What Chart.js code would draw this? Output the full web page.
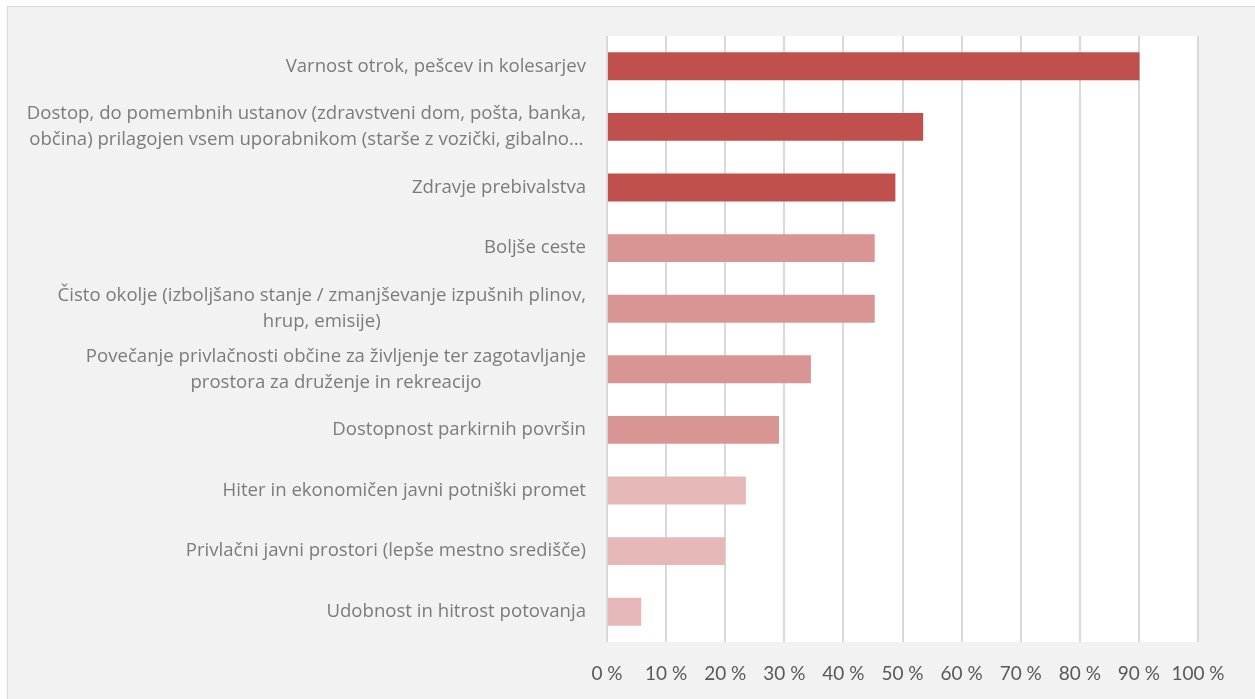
<!DOCTYPE html>
<html>
<head>
<meta charset="utf-8">
<script src="https://cdn.jsdelivr.net/npm/chart.js@4"></script>
<style>
    html, body { margin: 0; padding: 0; background: #ffffff; overflow: hidden; }
    #wrap { position: absolute; left: 0; top: 0; width: 1255px; height: 699px; }
</style>
</head>
<body>
<div id="wrap"><canvas id="chart" width="1255" height="699"></canvas></div>
<script>
const categories = [
    ["Varnost otrok, pešcev in kolesarjev"],
    ["Dostop, do pomembnih ustanov (zdravstveni dom, pošta, banka,", "občina) prilagojen vsem uporabnikom (starše z vozički, gibalno…"],
    ["Zdravje prebivalstva"],
    ["Boljše ceste"],
    ["Čisto okolje (izboljšano stanje / zmanjševanje izpušnih plinov,", "hrup, emisije)"],
    ["Povečanje privlačnosti občine za življenje ter zagotavljanje", "prostora za druženje in rekreacijo"],
    ["Dostopnost parkirnih površin"],
    ["Hiter in ekonomičen javni potniški promet"],
    ["Privlačni javni prostori (lepše mestno središče)"],
    ["Udobnost in hitrost potovanja"],
]
const shares = [90.1, 53.5, 48.8, 45.3, 45.3, 34.5, 29.1, 23.5, 20.0, 5.8]
const tiers = [0, 0, 0, 1, 1, 1, 1, 2, 2, 2]
const tierColors = ["#c0504d", "#d99594", "#e6b8b7"]
const xTicks = [0, 10, 20, 30, 40, 50, 60, 70, 80, 90, 100]

const labelFont = "18.6px 'Open Sans', Lato, sans-serif"
const labelLineHeight = 26

// gray panel behind everything
const panel = {
    id: "panel",
    beforeDraw(chart) {
        const ctx = chart.ctx
        ctx.save()
        ctx.fillStyle = "#f2f2f2"
        ctx.fillRect(7, 6, chart.width, chart.height)
        ctx.strokeStyle = "#d9d9d9"
        ctx.lineWidth = 1
        ctx.strokeRect(7.5, 6.5, chart.width, chart.height)
        ctx.fillStyle = "#ffffff"
        const a = chart.chartArea
        ctx.fillRect(a.left, a.top, a.right - a.left, a.bottom - a.top)
        ctx.restore()
    }
}

// category labels: block right-aligned, lines centred inside the block
const categoryLabels = {
    id: "categoryLabels",
    afterDraw(chart) {
        const ctx = chart.ctx
        const yScale = chart.scales.y
        const right = chart.chartArea.left - 21
        ctx.save()
        ctx.font = labelFont
        ctx.fillStyle = "#7b7b7b"
        ctx.textAlign = "center"
        ctx.textBaseline = "middle"
        categories.forEach((lines, i) => {
            const y = yScale.getPixelForTick(i)
            const w = Math.max(...lines.map(l => ctx.measureText(l).width))
            const cx = right - w / 2
            const y0 = y - (lines.length - 1) * labelLineHeight / 2
            lines.forEach((line, j) => {
                ctx.fillText(line, cx, y0 + j * labelLineHeight)
            })
        })
        ctx.restore()
    }
}

new Chart("chart", {
    type: "bar",
    data: {
        labels: categories.map(c => c.join(" ")),
        datasets: [{
            data: shares,
            backgroundColor: tiers.map(t => tierColors[t]),
            barPercentage: 0.46,
            categoryPercentage: 1,
        }]
    },
    options: {
        indexAxis: "y",
        responsive: false,
        animation: false,
        layout: {
            padding: { top: 36, right: 57, bottom: 0, left: 0 },
        },
        plugins: {
            legend: { display: false },
            tooltip: { enabled: false },
        },
        scales: {
            y: {
                ticks: { display: false },
                grid: { display: false },
                border: { display: false },
                afterFit: scale => { scale.width = 607 },
            },
            x: {
                position: "bottom",
                min: 0,
                max: 100,
                afterBuildTicks: scale => { scale.ticks = xTicks.map(v => ({ value: v })) },
                ticks: {
                    autoSkip: false,
                    maxRotation: 0,
                    padding: 20,
                    color: "#595959",
                    font: { family: "Lato, 'Open Sans', sans-serif", size: 19 },
                    callback: v => `${v} %`,
                },
                grid: {
                    color: "#d9d9d9",
                    lineWidth: 2,
                    drawTicks: false,
                },
                border: { display: false },
                afterFit: scale => { scale.height = 57 },
            },
        },
    },
    plugins: [panel, categoryLabels],
})
</script>
</body>
</html>
